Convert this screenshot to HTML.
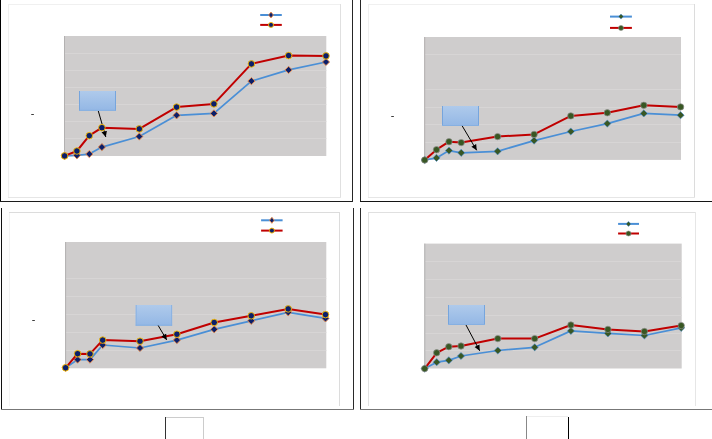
<!DOCTYPE html>
<html><head><meta charset="utf-8"><title>charts</title>
<style>
html,body{margin:0;padding:0;background:#fff;font-family:"Liberation Sans",sans-serif;}
svg{display:block}
</style></head>
<body>
<svg width="712" height="439" viewBox="0 0 712 439">
<defs>
<linearGradient id="boxg" x1="0" y1="0" x2="0" y2="1"><stop offset="0" stop-color="#afcaeb"/><stop offset="1" stop-color="#93b7e5"/></linearGradient>
<marker id="ah" markerWidth="8" markerHeight="8" refX="6" refY="3" orient="auto" markerUnits="userSpaceOnUse"><path d="M0.3 0.2L6 3L0.3 5.8Z" fill="#000"/></marker>
</defs>
<rect width="712" height="439" fill="#fff"/>

<g shape-rendering="crispEdges">
<!-- inner light frames -->
<g>
<rect x="8" y="4" width="1" height="194" fill="#f0f0f0"/><rect x="8" y="4" width="333" height="1" fill="#f0f0f0"/>
<rect x="340" y="4" width="1" height="194" fill="#e0e0e0"/><rect x="8" y="197" width="333" height="1" fill="#e6e6e6"/>
<rect x="368" y="4" width="1" height="194" fill="#f0f0f0"/><rect x="368" y="4" width="327" height="1" fill="#f0f0f0"/>
<rect x="694" y="4" width="1" height="194" fill="#dcdcdc"/><rect x="368" y="197" width="327" height="1" fill="#e6e6e6"/>
<rect x="9" y="212" width="1" height="194" fill="#f4f4f4"/><rect x="9" y="212" width="331" height="1" fill="#dcdcdc"/>
<rect x="339" y="212" width="1" height="194" fill="#dcdcdc"/>
<rect x="368" y="212" width="1" height="194" fill="#e2e2e2"/><rect x="368" y="212" width="328" height="1" fill="#e0e0e0"/>
<rect x="695" y="212" width="1" height="194" fill="#e6e6e6"/>
</g>
<!-- outer black frames -->
<g>
<rect x="0" y="0" width="1" height="202" fill="#000"/>
<rect x="0" y="201" width="353" height="1" fill="#1c1c1c"/>
<rect x="352" y="0" width="1" height="202" fill="#262626"/>
<rect x="360" y="0" width="1" height="202" fill="#262626"/>
<rect x="360" y="201" width="352" height="1" fill="#141414"/>
<rect x="1" y="208" width="1" height="202" fill="#111"/>
<rect x="353" y="208" width="1" height="202" fill="#2a2a2a"/>
<rect x="360" y="208" width="1" height="202" fill="#2a2a2a"/>
</g>
<rect x="1" y="409" width="353" height="1" fill="#777"/>
<rect x="360" y="409" width="352" height="1" fill="#777"/>
<!-- bottom boxes -->
<rect x="165" y="417" width="1" height="22" fill="#333"/>
<rect x="166" y="417" width="38" height="1" fill="#ccc"/>
<rect x="203" y="417" width="1" height="22" fill="#ccc"/>
<rect x="526" y="416" width="1" height="23" fill="#888"/>
<rect x="527" y="416" width="41" height="1" fill="#eee"/>
<rect x="568" y="417" width="1" height="22" fill="#000"/>
</g>

<g id="chart1">
<rect x="64" y="36" width="262.3" height="120.0" fill="#cfcdcd"/>
<rect x="64" y="53" width="262.3" height="1" fill="#d7d5d5"/>
<rect x="64" y="70" width="262.3" height="1" fill="#d7d5d5"/>
<rect x="64" y="87" width="262.3" height="1" fill="#d7d5d5"/>
<rect x="64" y="104" width="262.3" height="1" fill="#d7d5d5"/>
<rect x="64" y="121" width="262.3" height="1" fill="#d7d5d5"/>
<rect x="64" y="138" width="262.3" height="1" fill="#d7d5d5"/>
<line x1="64.5" y1="36" x2="64.5" y2="156" stroke="#b3b1b1" stroke-width="1"/>
<rect x="79" y="91" width="37.0" height="19.8" fill="url(#boxg)"/>
<rect x="79" y="91" width="1" height="19.8" fill="#76a5dd"/>
<rect x="115.0" y="91" width="1" height="19.8" fill="#76a5dd"/>
<rect x="79" y="109.8" width="37.0" height="1" fill="#86b0e2"/>
<line x1="98.3" y1="111" x2="105.8" y2="137" stroke="#000" stroke-width="1" marker-end="url(#ah)"/>
<polyline points="64.6,155.9 76.9,155.3 89.3,154.0 101.9,147.1 139.3,136.5 176.6,115.3 213.9,113.4 251.4,81.1 288.6,69.9 326.0,62.0" fill="none" stroke="#4a8fd6" stroke-width="1.75" stroke-linejoin="round"/>
<path d="M64.6 152.3L68.2 155.9L64.6 159.5L61.0 155.9Z" fill="#0b1f6a" stroke="#ec8c4a" stroke-width="0.9"/>
<path d="M76.9 151.7L80.5 155.3L76.9 158.9L73.3 155.3Z" fill="#0b1f6a" stroke="#ec8c4a" stroke-width="0.9"/>
<path d="M89.3 150.4L92.9 154.0L89.3 157.6L85.7 154.0Z" fill="#0b1f6a" stroke="#ec8c4a" stroke-width="0.9"/>
<path d="M101.9 143.5L105.5 147.1L101.9 150.7L98.3 147.1Z" fill="#0b1f6a" stroke="#ec8c4a" stroke-width="0.9"/>
<path d="M139.3 132.9L142.9 136.5L139.3 140.1L135.7 136.5Z" fill="#0b1f6a" stroke="#ec8c4a" stroke-width="0.9"/>
<path d="M176.6 111.7L180.2 115.3L176.6 118.9L173.0 115.3Z" fill="#0b1f6a" stroke="#ec8c4a" stroke-width="0.9"/>
<path d="M213.9 109.8L217.5 113.4L213.9 117.0L210.3 113.4Z" fill="#0b1f6a" stroke="#ec8c4a" stroke-width="0.9"/>
<path d="M251.4 77.5L255.0 81.1L251.4 84.7L247.8 81.1Z" fill="#0b1f6a" stroke="#ec8c4a" stroke-width="0.9"/>
<path d="M288.6 66.3L292.2 69.9L288.6 73.5L285.0 69.9Z" fill="#0b1f6a" stroke="#ec8c4a" stroke-width="0.9"/>
<path d="M326.0 58.4L329.6 62.0L326.0 65.6L322.4 62.0Z" fill="#0b1f6a" stroke="#ec8c4a" stroke-width="0.9"/>
<polyline points="64.6,155.9 76.9,151.0 89.3,135.7 101.9,127.7 139.3,128.9 176.6,107.1 213.9,103.9 251.4,63.9 288.6,55.6 326.0,55.9" fill="none" stroke="#c00000" stroke-width="2" stroke-linejoin="round"/>
<circle cx="64.6" cy="155.9" r="3.3" fill="#0b1f6a" stroke="#ffc000" stroke-width="0.9"/>
<circle cx="76.9" cy="151.0" r="3.3" fill="#0b1f6a" stroke="#ffc000" stroke-width="0.9"/>
<circle cx="89.3" cy="135.7" r="3.3" fill="#0b1f6a" stroke="#ffc000" stroke-width="0.9"/>
<circle cx="101.9" cy="127.7" r="3.3" fill="#0b1f6a" stroke="#ffc000" stroke-width="0.9"/>
<circle cx="139.3" cy="128.9" r="3.3" fill="#0b1f6a" stroke="#ffc000" stroke-width="0.9"/>
<circle cx="176.6" cy="107.1" r="3.3" fill="#0b1f6a" stroke="#ffc000" stroke-width="0.9"/>
<circle cx="213.9" cy="103.9" r="3.3" fill="#0b1f6a" stroke="#ffc000" stroke-width="0.9"/>
<circle cx="251.4" cy="63.9" r="3.3" fill="#0b1f6a" stroke="#ffc000" stroke-width="0.9"/>
<circle cx="288.6" cy="55.6" r="3.3" fill="#0b1f6a" stroke="#ffc000" stroke-width="0.9"/>
<circle cx="326.0" cy="55.9" r="3.3" fill="#0b1f6a" stroke="#ffc000" stroke-width="0.9"/>
<line x1="260.2" y1="15" x2="281.8" y2="15" stroke="#4a8fd6" stroke-width="2"/>
<path d="M271.0 12.0L273.4 15.0L271.0 18.0L268.6 15.0Z" fill="#0b1f6a" stroke="#ec8c4a" stroke-width="0.9"/>
<line x1="260.2" y1="24.9" x2="281.8" y2="24.9" stroke="#c00000" stroke-width="2"/>
<circle cx="271.0" cy="24.9" r="2.5" fill="#0b1f6a" stroke="#ffc000" stroke-width="0.9"/>
<text x="30.7" y="117.1" font-family="Liberation Sans, sans-serif" font-size="10" fill="#222" textLength="3.6" lengthAdjust="spacingAndGlyphs">-</text>
</g>
<g id="chart2">
<rect x="424.2" y="37" width="256.8" height="122.9" fill="#cfcdcd"/>
<rect x="424.2" y="54" width="256.8" height="1" fill="#d7d5d5"/>
<rect x="424.2" y="89" width="256.8" height="1" fill="#d7d5d5"/>
<rect x="424.2" y="107" width="256.8" height="1" fill="#d7d5d5"/>
<rect x="424.2" y="124" width="256.8" height="1" fill="#d7d5d5"/>
<rect x="424.2" y="142" width="256.8" height="1" fill="#d7d5d5"/>
<line x1="424.7" y1="37" x2="424.7" y2="159.9" stroke="#b3b1b1" stroke-width="1"/>
<rect x="442" y="106" width="37.0" height="20.0" fill="url(#boxg)"/>
<rect x="442" y="106" width="1" height="20.0" fill="#76a5dd"/>
<rect x="478.0" y="106" width="1" height="20.0" fill="#76a5dd"/>
<rect x="442" y="125.0" width="37.0" height="1" fill="#86b0e2"/>
<polyline points="424.7,160.0 436.5,157.9 449.0,150.6 461.2,152.8 497.6,151.3 534.1,140.6 570.8,131.5 607.3,123.6 643.8,113.4 680.6,115.2" fill="none" stroke="#4a8fd6" stroke-width="1.75" stroke-linejoin="round"/>
<path d="M424.7 156.4L428.3 160.0L424.7 163.6L421.1 160.0Z" fill="#385723" stroke="#4a8fd6" stroke-width="0.6"/>
<path d="M436.5 154.3L440.1 157.9L436.5 161.5L432.9 157.9Z" fill="#385723" stroke="#4a8fd6" stroke-width="0.6"/>
<path d="M449.0 147.0L452.6 150.6L449.0 154.2L445.4 150.6Z" fill="#385723" stroke="#4a8fd6" stroke-width="0.6"/>
<path d="M461.2 149.2L464.8 152.8L461.2 156.4L457.6 152.8Z" fill="#385723" stroke="#4a8fd6" stroke-width="0.6"/>
<path d="M497.6 147.7L501.2 151.3L497.6 154.9L494.0 151.3Z" fill="#385723" stroke="#4a8fd6" stroke-width="0.6"/>
<path d="M534.1 137.0L537.7 140.6L534.1 144.2L530.5 140.6Z" fill="#385723" stroke="#4a8fd6" stroke-width="0.6"/>
<path d="M570.8 127.9L574.4 131.5L570.8 135.1L567.2 131.5Z" fill="#385723" stroke="#4a8fd6" stroke-width="0.6"/>
<path d="M607.3 120.0L610.9 123.6L607.3 127.2L603.7 123.6Z" fill="#385723" stroke="#4a8fd6" stroke-width="0.6"/>
<path d="M643.8 109.8L647.4 113.4L643.8 117.0L640.2 113.4Z" fill="#385723" stroke="#4a8fd6" stroke-width="0.6"/>
<path d="M680.6 111.6L684.2 115.2L680.6 118.8L677.0 115.2Z" fill="#385723" stroke="#4a8fd6" stroke-width="0.6"/>
<polyline points="424.7,160.0 436.5,149.7 449.0,141.7 461.2,142.6 497.6,136.6 534.1,134.4 570.8,115.9 607.3,112.8 643.8,105.3 680.6,106.9" fill="none" stroke="#c00000" stroke-width="2" stroke-linejoin="round"/>
<circle cx="424.7" cy="160.0" r="3.2" fill="#385723" stroke="#8f8f8f" stroke-width="0.7"/>
<circle cx="436.5" cy="149.7" r="3.2" fill="#385723" stroke="#8f8f8f" stroke-width="0.7"/>
<circle cx="449.0" cy="141.7" r="3.2" fill="#385723" stroke="#8f8f8f" stroke-width="0.7"/>
<circle cx="461.2" cy="142.6" r="3.2" fill="#385723" stroke="#8f8f8f" stroke-width="0.7"/>
<circle cx="497.6" cy="136.6" r="3.2" fill="#385723" stroke="#8f8f8f" stroke-width="0.7"/>
<circle cx="534.1" cy="134.4" r="3.2" fill="#385723" stroke="#8f8f8f" stroke-width="0.7"/>
<circle cx="570.8" cy="115.9" r="3.2" fill="#385723" stroke="#8f8f8f" stroke-width="0.7"/>
<circle cx="607.3" cy="112.8" r="3.2" fill="#385723" stroke="#8f8f8f" stroke-width="0.7"/>
<circle cx="643.8" cy="105.3" r="3.2" fill="#385723" stroke="#8f8f8f" stroke-width="0.7"/>
<circle cx="680.6" cy="106.9" r="3.2" fill="#385723" stroke="#8f8f8f" stroke-width="0.7"/>
<line x1="462.2" y1="125.9" x2="476.7" y2="150.3" stroke="#000" stroke-width="1" marker-end="url(#ah)"/>
<line x1="610" y1="16.6" x2="631.9" y2="16.6" stroke="#4a8fd6" stroke-width="2"/>
<path d="M621.0 14.1L623.5 16.6L621.0 19.1L618.5 16.6Z" fill="#385723" stroke="#4a8fd6" stroke-width="0.6"/>
<line x1="610" y1="27.9" x2="631.9" y2="27.9" stroke="#c00000" stroke-width="2"/>
<circle cx="621.0" cy="27.9" r="2.5" fill="#385723" stroke="#8f8f8f" stroke-width="0.6"/>
<text x="390.7" y="119.1" font-family="Liberation Sans, sans-serif" font-size="10" fill="#222" textLength="3.6" lengthAdjust="spacingAndGlyphs">-</text>
</g>
<g id="chart3">
<rect x="65.1" y="242" width="261.2" height="126.3" fill="#cfcdcd"/>
<rect x="65.1" y="278" width="261.2" height="1" fill="#d7d5d5"/>
<rect x="65.1" y="296" width="261.2" height="1" fill="#d7d5d5"/>
<rect x="65.1" y="314" width="261.2" height="1" fill="#d7d5d5"/>
<rect x="65.1" y="332" width="261.2" height="1" fill="#d7d5d5"/>
<rect x="65.1" y="350" width="261.2" height="1" fill="#d7d5d5"/>
<line x1="65.6" y1="242" x2="65.6" y2="368.3" stroke="#b3b1b1" stroke-width="1"/>
<rect x="135.7" y="305" width="36.4" height="20.7" fill="url(#boxg)"/>
<rect x="135.7" y="305" width="1" height="20.7" fill="#8ab2e3"/>
<rect x="171.1" y="305" width="1" height="20.7" fill="#8ab2e3"/>
<rect x="135.7" y="324.7" width="36.4" height="1" fill="#86b0e2"/>
<polyline points="65.6,367.8 77.6,359.6 90.0,359.6 102.7,345.0 140.0,348.0 176.9,340.1 214.2,329.3 251.2,320.8 288.2,312.3 325.5,318.4" fill="none" stroke="#4a8fd6" stroke-width="1.75" stroke-linejoin="round"/>
<path d="M65.6 364.2L69.2 367.8L65.6 371.4L62.0 367.8Z" fill="#0b1f6a" stroke="#ec8c4a" stroke-width="0.9"/>
<path d="M77.6 356.0L81.2 359.6L77.6 363.2L74.0 359.6Z" fill="#0b1f6a" stroke="#ec8c4a" stroke-width="0.9"/>
<path d="M90.0 356.0L93.6 359.6L90.0 363.2L86.4 359.6Z" fill="#0b1f6a" stroke="#ec8c4a" stroke-width="0.9"/>
<path d="M102.7 341.4L106.3 345.0L102.7 348.6L99.1 345.0Z" fill="#0b1f6a" stroke="#ec8c4a" stroke-width="0.9"/>
<path d="M140.0 344.4L143.6 348.0L140.0 351.6L136.4 348.0Z" fill="#0b1f6a" stroke="#ec8c4a" stroke-width="0.9"/>
<path d="M176.9 336.5L180.5 340.1L176.9 343.7L173.3 340.1Z" fill="#0b1f6a" stroke="#ec8c4a" stroke-width="0.9"/>
<path d="M214.2 325.7L217.8 329.3L214.2 332.9L210.6 329.3Z" fill="#0b1f6a" stroke="#ec8c4a" stroke-width="0.9"/>
<path d="M251.2 317.2L254.8 320.8L251.2 324.4L247.6 320.8Z" fill="#0b1f6a" stroke="#ec8c4a" stroke-width="0.9"/>
<path d="M288.2 308.7L291.8 312.3L288.2 315.9L284.6 312.3Z" fill="#0b1f6a" stroke="#ec8c4a" stroke-width="0.9"/>
<path d="M325.5 314.8L329.1 318.4L325.5 322.0L321.9 318.4Z" fill="#0b1f6a" stroke="#ec8c4a" stroke-width="0.9"/>
<polyline points="65.6,367.8 77.6,353.7 90.0,353.9 102.7,340.1 140.0,341.2 176.9,334.2 214.2,322.5 251.2,315.8 288.2,308.9 325.5,314.6" fill="none" stroke="#c00000" stroke-width="2" stroke-linejoin="round"/>
<circle cx="65.6" cy="367.8" r="3.3" fill="#0b1f6a" stroke="#ffc000" stroke-width="0.9"/>
<circle cx="77.6" cy="353.7" r="3.3" fill="#0b1f6a" stroke="#ffc000" stroke-width="0.9"/>
<circle cx="90.0" cy="353.9" r="3.3" fill="#0b1f6a" stroke="#ffc000" stroke-width="0.9"/>
<circle cx="102.7" cy="340.1" r="3.3" fill="#0b1f6a" stroke="#ffc000" stroke-width="0.9"/>
<circle cx="140.0" cy="341.2" r="3.3" fill="#0b1f6a" stroke="#ffc000" stroke-width="0.9"/>
<circle cx="176.9" cy="334.2" r="3.3" fill="#0b1f6a" stroke="#ffc000" stroke-width="0.9"/>
<circle cx="214.2" cy="322.5" r="3.3" fill="#0b1f6a" stroke="#ffc000" stroke-width="0.9"/>
<circle cx="251.2" cy="315.8" r="3.3" fill="#0b1f6a" stroke="#ffc000" stroke-width="0.9"/>
<circle cx="288.2" cy="308.9" r="3.3" fill="#0b1f6a" stroke="#ffc000" stroke-width="0.9"/>
<circle cx="325.5" cy="314.6" r="3.3" fill="#0b1f6a" stroke="#ffc000" stroke-width="0.9"/>
<line x1="158.2" y1="325.5" x2="166.7" y2="339.9" stroke="#000" stroke-width="1" marker-end="url(#ah)"/>
<line x1="261.1" y1="220.3" x2="282.6" y2="220.3" stroke="#4a8fd6" stroke-width="2"/>
<path d="M271.9 217.3L274.2 220.3L271.9 223.3L269.5 220.3Z" fill="#0b1f6a" stroke="#ec8c4a" stroke-width="0.9"/>
<line x1="261.1" y1="230.6" x2="282.6" y2="230.6" stroke="#c00000" stroke-width="2"/>
<circle cx="271.9" cy="230.6" r="2.5" fill="#0b1f6a" stroke="#ffc000" stroke-width="0.9"/>
<text x="31.7" y="323.1" font-family="Liberation Sans, sans-serif" font-size="10" fill="#222" textLength="3.6" lengthAdjust="spacingAndGlyphs">-</text>
</g>
<g id="chart4">
<rect x="424.3" y="243.6" width="257.4" height="124.9" fill="#cfcdcd"/>
<rect x="424.3" y="261" width="257.4" height="1" fill="#d7d5d5"/>
<rect x="424.3" y="279" width="257.4" height="1" fill="#d7d5d5"/>
<rect x="424.3" y="297" width="257.4" height="1" fill="#d7d5d5"/>
<rect x="424.3" y="315" width="257.4" height="1" fill="#d7d5d5"/>
<rect x="424.3" y="333" width="257.4" height="1" fill="#d7d5d5"/>
<rect x="424.3" y="350" width="257.4" height="1" fill="#d7d5d5"/>
<line x1="424.8" y1="243.6" x2="424.8" y2="368.5" stroke="#b3b1b1" stroke-width="1"/>
<rect x="448" y="305" width="37.0" height="20.0" fill="url(#boxg)"/>
<rect x="448" y="305" width="1" height="20.0" fill="#76a5dd"/>
<rect x="484.0" y="305" width="1" height="20.0" fill="#76a5dd"/>
<rect x="448" y="324.0" width="37.0" height="1" fill="#86b0e2"/>
<polyline points="424.7,368.6 436.7,362.2 448.8,360.3 461.0,356.0 497.8,350.5 534.7,347.3 570.9,330.9 607.9,333.4 644.4,335.5 681.2,327.8" fill="none" stroke="#4a8fd6" stroke-width="1.75" stroke-linejoin="round"/>
<path d="M424.7 365.0L428.3 368.6L424.7 372.2L421.1 368.6Z" fill="#385723" stroke="#4a8fd6" stroke-width="0.6"/>
<path d="M436.7 358.6L440.3 362.2L436.7 365.8L433.1 362.2Z" fill="#385723" stroke="#4a8fd6" stroke-width="0.6"/>
<path d="M448.8 356.7L452.4 360.3L448.8 363.9L445.2 360.3Z" fill="#385723" stroke="#4a8fd6" stroke-width="0.6"/>
<path d="M461.0 352.4L464.6 356.0L461.0 359.6L457.4 356.0Z" fill="#385723" stroke="#4a8fd6" stroke-width="0.6"/>
<path d="M497.8 346.9L501.4 350.5L497.8 354.1L494.2 350.5Z" fill="#385723" stroke="#4a8fd6" stroke-width="0.6"/>
<path d="M534.7 343.7L538.3 347.3L534.7 350.9L531.1 347.3Z" fill="#385723" stroke="#4a8fd6" stroke-width="0.6"/>
<path d="M570.9 327.3L574.5 330.9L570.9 334.5L567.3 330.9Z" fill="#385723" stroke="#4a8fd6" stroke-width="0.6"/>
<path d="M607.9 329.8L611.5 333.4L607.9 337.0L604.3 333.4Z" fill="#385723" stroke="#4a8fd6" stroke-width="0.6"/>
<path d="M644.4 331.9L648.0 335.5L644.4 339.1L640.8 335.5Z" fill="#385723" stroke="#4a8fd6" stroke-width="0.6"/>
<path d="M681.2 324.2L684.8 327.8L681.2 331.4L677.6 327.8Z" fill="#385723" stroke="#4a8fd6" stroke-width="0.6"/>
<polyline points="424.7,368.6 436.7,352.8 448.8,346.7 461.0,346.0 497.8,338.6 534.7,338.6 570.9,325.0 607.9,329.4 644.4,331.5 681.2,325.6" fill="none" stroke="#c00000" stroke-width="2" stroke-linejoin="round"/>
<circle cx="424.7" cy="368.6" r="3.2" fill="#385723" stroke="#8f8f8f" stroke-width="0.7"/>
<circle cx="436.7" cy="352.8" r="3.2" fill="#385723" stroke="#8f8f8f" stroke-width="0.7"/>
<circle cx="448.8" cy="346.7" r="3.2" fill="#385723" stroke="#8f8f8f" stroke-width="0.7"/>
<circle cx="461.0" cy="346.0" r="3.2" fill="#385723" stroke="#8f8f8f" stroke-width="0.7"/>
<circle cx="497.8" cy="338.6" r="3.2" fill="#385723" stroke="#8f8f8f" stroke-width="0.7"/>
<circle cx="534.7" cy="338.6" r="3.2" fill="#385723" stroke="#8f8f8f" stroke-width="0.7"/>
<circle cx="570.9" cy="325.0" r="3.2" fill="#385723" stroke="#8f8f8f" stroke-width="0.7"/>
<circle cx="607.9" cy="329.4" r="3.2" fill="#385723" stroke="#8f8f8f" stroke-width="0.7"/>
<circle cx="644.4" cy="331.5" r="3.2" fill="#385723" stroke="#8f8f8f" stroke-width="0.7"/>
<circle cx="681.2" cy="325.6" r="3.2" fill="#385723" stroke="#8f8f8f" stroke-width="0.7"/>
<line x1="466" y1="325" x2="479.7" y2="350.8" stroke="#000" stroke-width="1" marker-end="url(#ah)"/>
<line x1="618.1" y1="223.9" x2="639" y2="223.9" stroke="#4a8fd6" stroke-width="2"/>
<path d="M628.5 221.4L631.0 223.9L628.5 226.4L626.0 223.9Z" fill="#385723" stroke="#4a8fd6" stroke-width="0.6"/>
<line x1="618.1" y1="233.5" x2="639" y2="233.5" stroke="#c00000" stroke-width="2"/>
<circle cx="628.5" cy="233.5" r="2.5" fill="#385723" stroke="#8f8f8f" stroke-width="0.6"/>
</g>
</svg>
</body></html>
